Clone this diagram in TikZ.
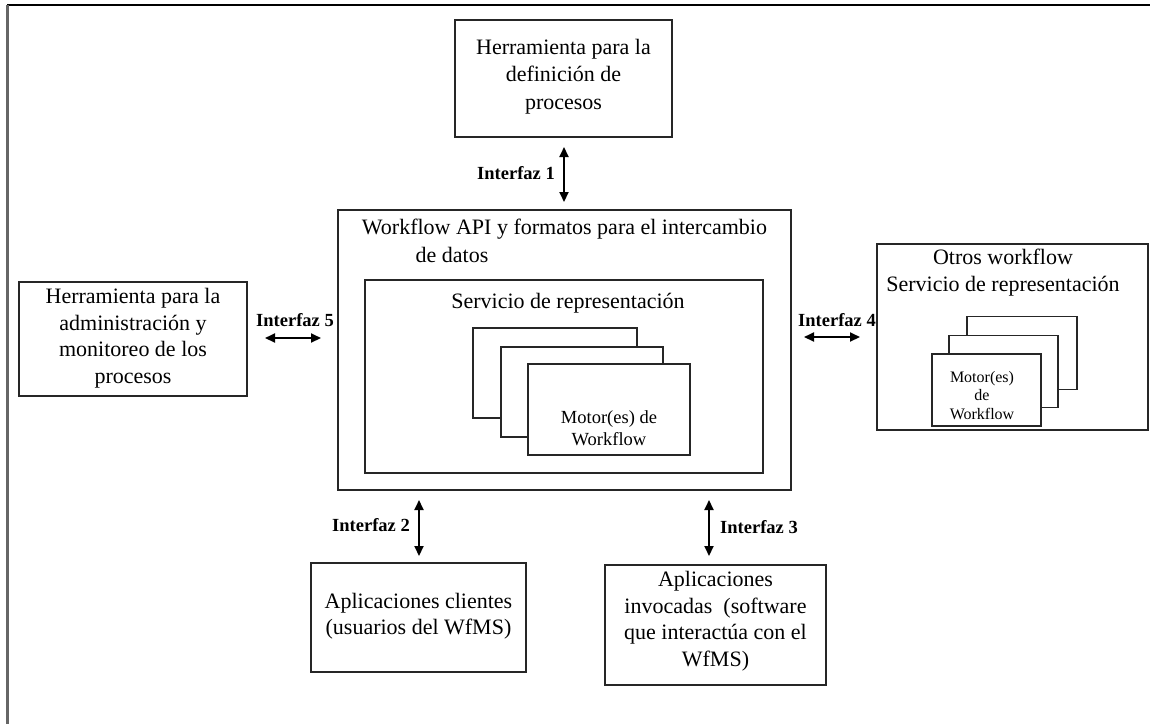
\documentclass[tikz,border=0pt]{standalone}
\usepackage{fontspec}
\setmainfont{Liberation Serif}
\usetikzlibrary{arrows.meta}

\begin{document}
\begin{tikzpicture}[x=1pt,y=-1pt,
  frame/.style={draw=black!85, line width=1.3pt, fill=white, inner sep=0pt},
  txt/.style={align=center, inner sep=0pt, font=\fontsize{22}{26.5}\selectfont},
  smalltxt/.style={align=center, inner sep=0pt, font=\fontsize{18.5}{22}\selectfont},
  tinytxt/.style={align=center, inner sep=0pt, font=\fontsize{16}{18.5}\selectfont},
  iflabel/.style={inner sep=0pt, font=\fontsize{18.5}{22}\bfseries\selectfont},
  link/.style={line width=2pt, {Triangle[length=10pt,width=9pt]}-{Triangle[length=10pt,width=9pt]}}
]
\useasboundingbox (0,0) rectangle (1151,724);

% page frame (top and left edges)
\draw[line width=2pt, black] (7,5) -- (1150,5);
\draw[line width=2.5pt, black!60] (7.5,5) -- (7.5,724);

% process definition tool
\node[frame, minimum width=217pt, minimum height=117pt] (defbox) at (563.5,78.5) {};
\node[txt, font=\fontsize{22}{27.5}\selectfont] (deftxt) at (563.5,76.5) {Herramienta para la\\definición de\\procesos};

% administration and monitoring tool
\node[frame, minimum width=228pt, minimum height=114pt] (admbox) at (133,339) {};
\node[txt] (admtxt) at (133,338) {Herramienta para la\\administración y\\monitoreo de los\\procesos};

% central workflow API box
\node[frame, minimum width=453pt, minimum height=280pt] (api) at (564.5,350) {};
\node[txt] (apit1) at (564.5,229) {Workflow API y formatos para el intercambio};
\node[txt] (apit2) at (452,255) {de datos};

% enactment service
\node[frame, minimum width=398pt, minimum height=193pt] (svc) at (564,376.5) {};
\node[txt] (svct) at (568,303) {Servicio de representación};

% stacked engines
\node[frame, minimum width=164pt, minimum height=90pt] (engA) at (555,373) {};
\node[frame, minimum width=162pt, minimum height=90pt] (engB) at (582,392) {};
\node[frame, minimum width=162pt, minimum height=91pt] (engC) at (609,409.5) {};
\node[smalltxt] (engt) at (609,428) {Motor(es) de\\Workflow};

% other workflow enactment services
\node[frame, minimum width=271pt, minimum height=186pt] (other) at (1012.5,337) {};
\node[txt, font=\fontsize{22}{27}\selectfont] (othert) at (1003,273) {Otros workflow\\Servicio de representación};
\node[frame, minimum width=110pt, minimum height=73pt] (oengA) at (1022,353) {};
\node[frame, minimum width=109pt, minimum height=72pt] (oengB) at (1003.5,371.5) {};
\node[frame, minimum width=109pt, minimum height=72pt] (oengC) at (986.5,390) {};
\node[tinytxt] (oengt) at (982,395.5) {Motor(es)\\de\\Workflow};

% client applications
\node[frame, minimum width=215pt, minimum height=109pt] (cli) at (418.5,617.5) {};
\node[txt] (clit) at (418.5,616) {Aplicaciones clientes\\(usuarios del WfMS)};

% invoked applications
\node[frame, minimum width=221pt, minimum height=120pt] (inv) at (715.5,625) {};
\node[txt] (invt) at (715.5,621) {Aplicaciones\\invocadas~ (software\\que interactúa con el\\WfMS)};

% interface arrows
\coordinate (i1a) at (564,147);  \coordinate (i1b) at (564,202);
\coordinate (i2a) at (419,500);  \coordinate (i2b) at (419,556);
\coordinate (i3a) at (709,500);  \coordinate (i3b) at (709,556);
\coordinate (i4a) at (804,337);  \coordinate (i4b) at (860,337);
\coordinate (i5a) at (265,338);  \coordinate (i5b) at (321,338);

\draw[link] (i1a) -- (i1b);
\draw[link] (i2a) -- (i2b);
\draw[link] (i3a) -- (i3b);
\draw[link] (i4a) -- (i4b);
\draw[link] (i5a) -- (i5b);

\node[iflabel, anchor=east] (l1) at (555,173) {Interfaz 1};
\node[iflabel, anchor=east] (l2) at (410,525) {Interfaz 2};
\node[iflabel, anchor=west] (l3) at (720,527) {Interfaz 3};
\node[iflabel] (l4) at (837,320) {Interfaz 4};
\node[iflabel] (l5) at (295,320) {Interfaz 5};
\end{tikzpicture}
\end{document}
